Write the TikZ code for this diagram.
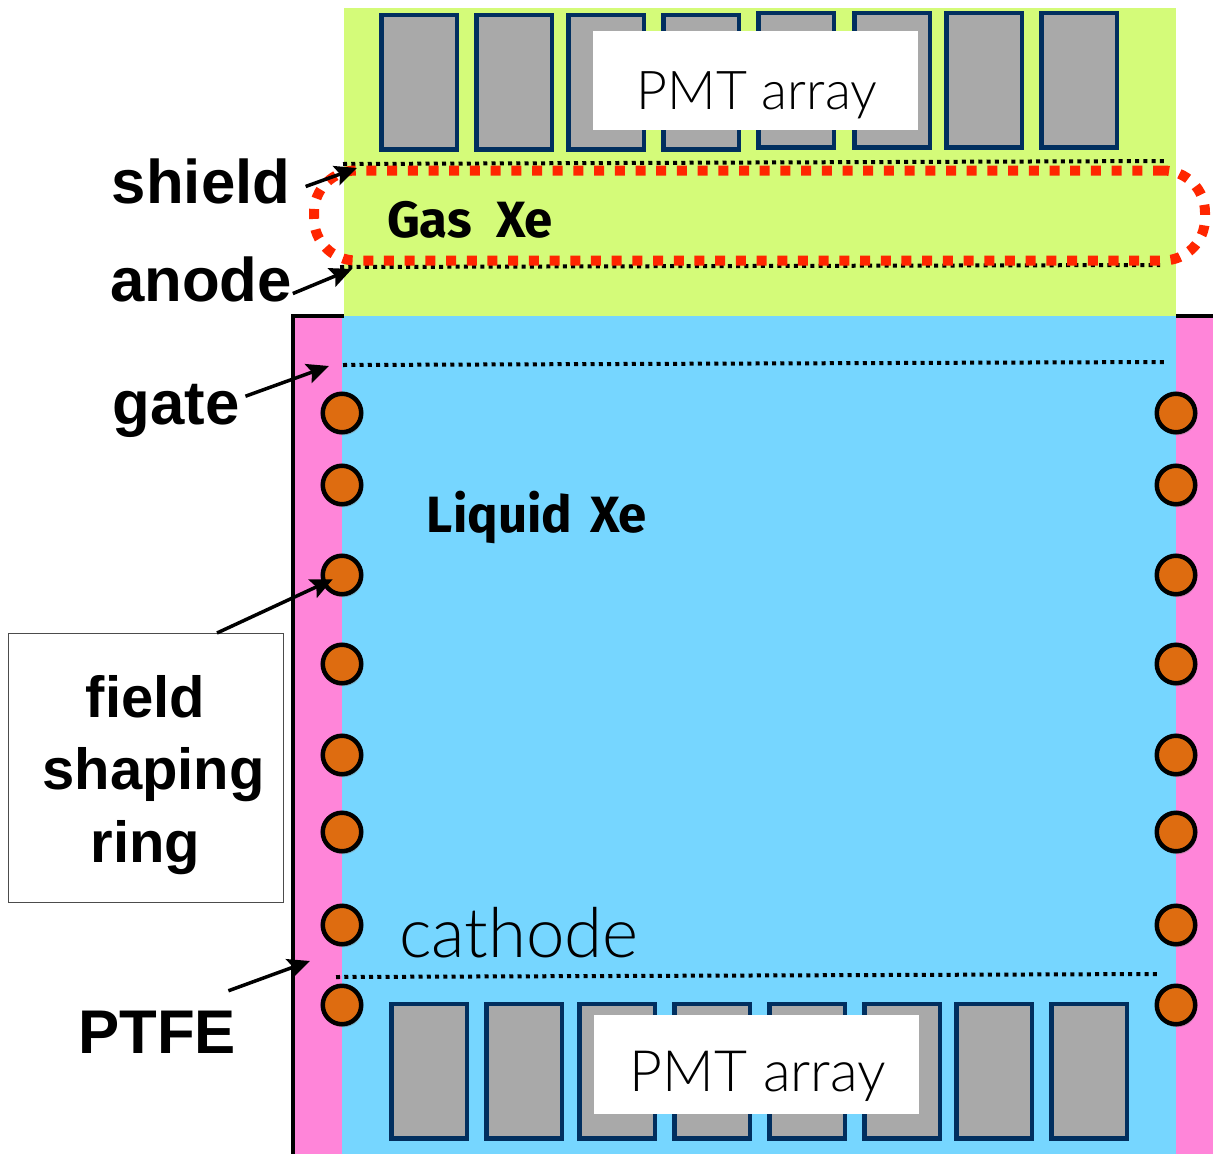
\documentclass[tikz,border=0pt]{standalone}
\usepackage{fontspec}
\setmainfont{Liberation Sans}
\newfontfamily\lightfont{Lato Light}
\newfontfamily\handfont{Fira Sans}
\usetikzlibrary{arrows.meta, shadows}

\definecolor{gasgreen}{HTML}{D4FB79}
\definecolor{liquidblue}{HTML}{76D6FF}
\definecolor{ptfepink}{HTML}{FF85D9}
\definecolor{ringorange}{HTML}{DE6C10}
\definecolor{pmtgray}{HTML}{A9A9A9}
\definecolor{pmtnavy}{HTML}{012F5F}
\definecolor{loopred}{HTML}{FF2600}

\begin{document}
\begin{tikzpicture}[x=1pt, y=-1pt,
    every node/.style={inner sep=0pt, outer sep=0pt},
    pmt/.style={draw=pmtnavy, fill=pmtgray, line width=4.5pt, minimum width=75.5pt, minimum height=134.5pt,
        drop shadow={shadow xshift=1.5pt, shadow yshift=-3pt, opacity=0.4}},
    fieldring/.style={circle, draw=black, fill=ringorange, line width=4.5pt, minimum size=38.5pt,
        drop shadow={shadow xshift=1.5pt, shadow yshift=-3pt, opacity=0.4}},
    whitebox/.style={fill=white, minimum width=325pt, minimum height=99pt},
    biglabel/.style={font=\bfseries\fontsize{61.7}{66}\selectfont, text=black},
    handlabel/.style={font=\handfont\bfseries\fontsize{51}{54}\selectfont, text=black},
    thinlabel/.style={font=\lightfont\fontsize{69}{72}\selectfont, text=black},
    griddots/.style={black, line width=4pt, dash pattern=on 4pt off 4.25pt},
    pointer/.style={-{Stealth[length=22pt, width=20pt, inset=4pt]}, black, line width=3.5pt}]

\useasboundingbox (0,0) rectangle (1213,1154);

% Volumes
\fill[gasgreen] (344,8) rectangle (1176,316);
\fill[liquidblue] (342,316) rectangle (1176,1154);
\fill[ptfepink] (293,316) rectangle (342,1154);
\fill[ptfepink] (1176,316) rectangle (1213,1154);
\draw[black, line width=3.5pt] (344,316) -- (293,316) -- (293,1154);
\draw[black, line width=3.5pt] (1176,316) -- (1213,316);

% PMT rows
\foreach \x/\y [count=\i] in {419/82,514/82,606/82,701/82,796/80,892/80,984/80,1079/80}
    \node[pmt] (toppmt\i) at (\x,\y) {};
\foreach \x [count=\i] in {429,524,617,712,807,902,994,1089}
    \node[pmt] (botpmt\i) at (\x,1071) {};
\node[whitebox] (toplabel) at (755.5,80.5) {};
\node[font=\lightfont\fontsize{53.5}{60}\selectfont] (toptext) at (757,95) {PMT array};
\node[whitebox] (botlabel) at (756.5,1064.5) {};
\node[font=\lightfont\fontsize{57}{60}\selectfont] (bottext) at (758,1076) {PMT array};

% Grids
\coordinate (shieldL) at (343,164);
\coordinate (shieldR) at (1167,161);
\coordinate (anodeL) at (340,267);
\coordinate (anodeR) at (1160,265);
\coordinate (gateL) at (343,365);
\coordinate (gateR) at (1166,362);
\coordinate (cathodeL) at (336,977);
\coordinate (cathodeR) at (1160,974);
\draw[griddots] (shieldL) -- (shieldR);
\draw[griddots] (anodeL) -- (anodeR);
\draw[griddots] (gateL) -- (gateR);
\draw[griddots] (cathodeL) -- (cathodeR);

% Gas gap outline
\node[draw=loopred, line width=10pt, dash pattern=on 10pt off 10.7pt, rounded corners=42pt,
    minimum width=891pt, minimum height=90pt] (gasloop) at (759.5,215.5) {};

% Rings
\foreach \y [count=\i] in {413,485,575,664,755,832,925,1005} {
    \node[fieldring] (ringL\i) at (342,\y) {};
    \node[fieldring] (ringR\i) at (1176,\y) {};
}

% Labels
\node[handlabel] (gasxe) at (470,220) {Gas\hspace{12pt} Xe};
\node[handlabel] (liquidxe) at (537,517) {Liquid\hspace{6pt} Xe};
\node[thinlabel] (cathode) at (519,933) {cathode};
\node[biglabel, inner xsep=15.5pt] (shield) at (201,181) {shield};
\node[biglabel, inner xsep=1pt] (anode) at (201,279) {anode};
\node[biglabel, inner xsep=6pt] (gate) at (176,411) {gate};
\node[biglabel, inner ysep=20pt] (ptfe) at (157,1032) {PTFE};
\node[draw=black!70, line width=0.8pt, fill=white, minimum width=275pt, minimum height=269pt] (ringbox) at (145.5,767.5) {};
\node[align=center, font=\bfseries\fontsize{58}{72.5}\selectfont] (ringtext) at (145.5,775)
    {field\\\hspace*{16pt}shaping\\ring};

% Arrows
\coordinate (shieldtip) at (357,168);
\coordinate (anodetip) at (352,269);
\coordinate (gatetip) at (329,366);
\coordinate (ptfetip) at (310,961);
\draw[pointer] (shield.-3.8) -- (shieldtip);
\draw[pointer] (anode.-9.5) -- (anodetip);
\draw[pointer] (gate.12.1) -- (gatetip);
\draw[pointer] (ptfe.30) -- (ptfetip);
\draw[pointer, shorten >=-9pt] (ringbox.62.8) -- (ringL3);

\end{tikzpicture}
\end{document}
